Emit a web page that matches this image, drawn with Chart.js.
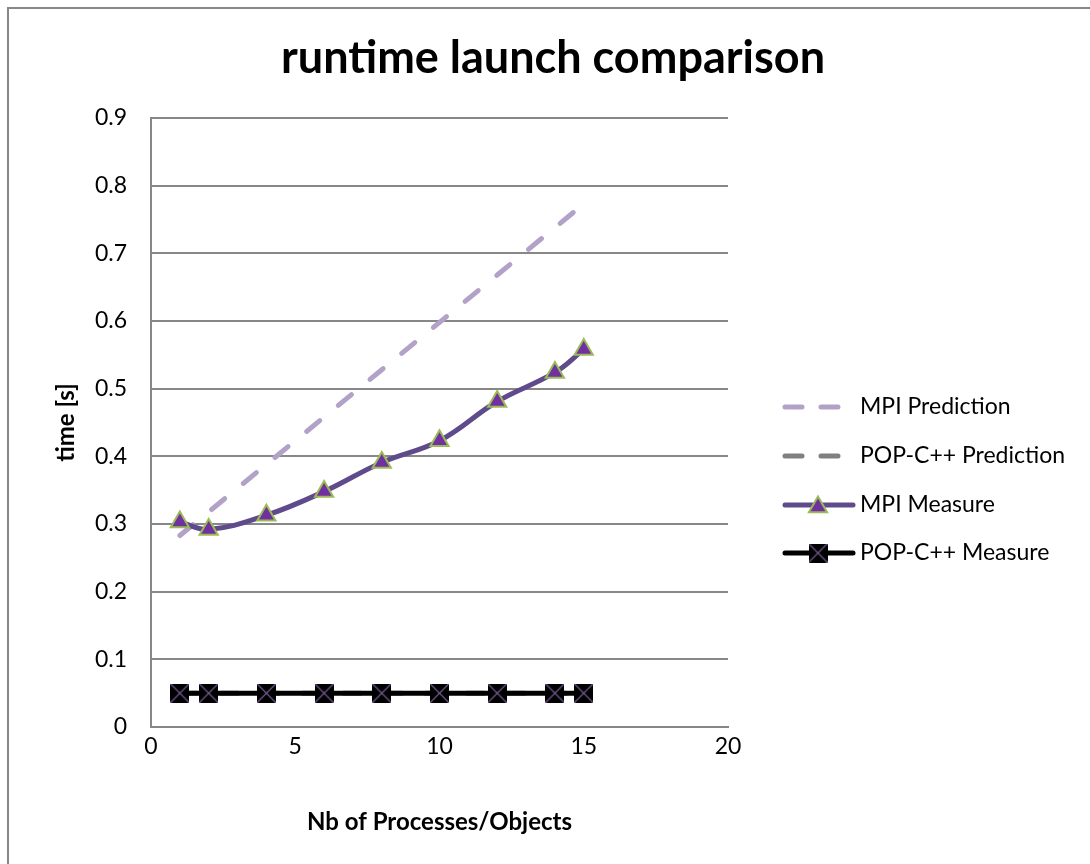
<!DOCTYPE html>
<html>
<head>
<meta charset="utf-8">
<title>runtime launch comparison</title>
<script src="https://cdn.jsdelivr.net/npm/chart.js@4.4.1/dist/chart.umd.min.js"></script>
<style>
  html, body { margin: 0; padding: 0; background: #fff; }
  #wrap { width: 1090px; height: 864px; }
</style>
</head>
<body>
<div id="wrap"><canvas id="chart" width="1090" height="864"></canvas></div>
<script>
  // values
  const xValues = [1, 2, 4, 6, 8, 10, 12, 14, 15];
  const mpiPrediction = [0.283, 0.318, 0.388, 0.458, 0.528, 0.598, 0.668, 0.738, 0.773];
  const popPrediction = [0.05, 0.05, 0.05, 0.05, 0.05, 0.05, 0.05, 0.05, 0.05];
  const mpiMeasure = [0.303, 0.292, 0.313, 0.348, 0.391, 0.423, 0.481, 0.524, 0.558];
  const popMeasure = [0.05, 0.05, 0.05, 0.05, 0.05, 0.05, 0.05, 0.05, 0.05];
  const seriesNames = ["MPI Prediction", "POP-C++ Prediction", "MPI Measure", "POP-C++ Measure"];
  const titleText = "runtime launch comparison";

  const FONT = "Lato, 'Open Sans', sans-serif";
  const GRID = "#878787";
  const LIGHT_PURPLE = "#b3a2c7";
  const GREY = "#808080";
  const DARK_PURPLE = "#5f4b8b";

  function toPoints(values) {
    return values.map((y, i) => ({ x: xValues[i], y }));
  }

  // square marker with a thin purple cross, used by POP-C++ Measure
  function makeCrossSquare(size) {
    const c = document.createElement("canvas");
    c.width = size;
    c.height = size;
    const g = c.getContext("2d");
    g.fillStyle = "#000";
    g.fillRect(0, 0, size, size);
    g.strokeStyle = "#8064a2";
    g.lineWidth = 1.2;
    g.beginPath();
    g.moveTo(0, 0);
    g.lineTo(size, size);
    g.moveTo(size, 0);
    g.lineTo(0, size);
    g.stroke();
    return c;
  }
  const crossSquare = makeCrossSquare(19);

  function drawTriangle(ctx, x, y, r) {
    ctx.save();
    ctx.beginPath();
    ctx.moveTo(x, y - r);
    ctx.lineTo(x + r * Math.sin(Math.PI / 3), y + r / 2);
    ctx.lineTo(x - r * Math.sin(Math.PI / 3), y + r / 2);
    ctx.closePath();
    ctx.fillStyle = "#7030a0";
    ctx.fill();
    ctx.strokeStyle = "#9bbb59";
    ctx.lineWidth = 2;
    ctx.stroke();
    ctx.restore();
  }

  function legendLine(ctx, color, y, x1, dash) {
    ctx.strokeStyle = color;
    ctx.lineWidth = 5;
    ctx.lineCap = "round";
    ctx.setLineDash(dash);
    ctx.beginPath();
    ctx.moveTo(785, y);
    ctx.lineTo(x1, y);
    ctx.stroke();
    ctx.setLineDash([]);
  }

  const framePlugin = {
    id: "frame",
    beforeDraw(chart) {
      const ctx = chart.ctx;
      ctx.save();
      ctx.strokeStyle = GRID;
      ctx.lineWidth = 2;
      ctx.beginPath();
      ctx.moveTo(8, chart.height + 5);
      ctx.lineTo(8, 8);
      ctx.lineTo(chart.width + 5, 8);
      ctx.stroke();
      ctx.restore();
    },
    afterDraw(chart) {
      const ctx = chart.ctx;
      ctx.save();
      ctx.fillStyle = "#000";
      ctx.textAlign = "center";
      ctx.textBaseline = "middle";
      ctx.font = "bold 45px " + FONT;
      ctx.fillText(titleText, 553, 58);

      // legend
      const rows = [407, 456, 505, 553];
      legendLine(ctx, LIGHT_PURPLE, rows[0], 838, [17, 19]);
      legendLine(ctx, GREY, rows[1], 838, [17, 19]);
      legendLine(ctx, DARK_PURPLE, rows[2], 853, []);
      drawTriangle(ctx, 818, rows[2] + 2, 10.5);
      legendLine(ctx, "#000", rows[3], 853, []);
      ctx.drawImage(crossSquare, 818 - 9.5, rows[3] - 9.5);

      ctx.font = "23px " + FONT;
      ctx.textAlign = "left";
      ctx.fillStyle = "#000";
      seriesNames.forEach((name, i) => ctx.fillText(name, 860, rows[i]));
      ctx.restore();
    },
  };

  new Chart(document.getElementById("chart"), {
    type: "line",
    data: {
      datasets: [
        {
          label: seriesNames[0],
          data: toPoints(mpiPrediction),
          borderColor: LIGHT_PURPLE,
          borderWidth: 5,
          borderDash: [17, 24],
          borderCapStyle: "round",
          pointRadius: 0,
          tension: 0,
          order: 3,
        },
        {
          label: seriesNames[1],
          data: toPoints(popPrediction),
          borderColor: GREY,
          borderWidth: 5,
          borderDash: [17, 24],
          borderCapStyle: "round",
          pointRadius: 0,
          tension: 0,
          order: 2,
        },
        {
          label: seriesNames[2],
          data: toPoints(mpiMeasure),
          borderColor: DARK_PURPLE,
          borderWidth: 5,
          tension: 0.4,
          pointStyle: "triangle",
          pointRadius: 10.5,
          pointBackgroundColor: "#7030a0",
          pointBorderColor: "#9bbb59",
          pointBorderWidth: 2,
          order: 1,
        },
        {
          label: seriesNames[3],
          data: toPoints(popMeasure),
          borderColor: "#000",
          borderWidth: 5,
          tension: 0,
          pointStyle: crossSquare,
          pointRadius: 9.5,
          order: 0,
        },
      ],
    },
    options: {
      responsive: false,
      animation: false,
      events: [],
      layout: { padding: { top: 118, right: 362, left: 0, bottom: 0 } },
      plugins: { legend: { display: false }, title: { display: false }, tooltip: { enabled: false } },
      scales: {
        x: {
          type: "linear",
          min: 0,
          max: 20,
          afterFit: (scale) => { scale.height = 137; },
          ticks: { stepSize: 5, color: "#000", font: { family: FONT, size: 23 }, padding: 6 },
          grid: { display: false, drawTicks: false },
          border: { display: true, color: GRID, width: 2 },
          title: {
            display: true,
            text: "Nb of Processes/Objects",
            color: "#000",
            font: { family: FONT, size: 24, weight: "bold" },
            padding: { bottom: 27 },
          },
        },
        y: {
          min: 0,
          max: 0.9,
          afterFit: (scale) => { scale.width = 151; },
          ticks: {
            stepSize: 0.1,
            color: "#000",
            font: { family: FONT, size: 23 },
            padding: 24,
            callback: (v) => (v === 0 ? "0" : v.toFixed(1)),
          },
          grid: { color: GRID, lineWidth: 2, drawTicks: false },
          border: { display: true, color: GRID, width: 2 },
          title: {
            display: true,
            text: "time [s]",
            color: "#000",
            font: { family: FONT, size: 24, weight: "bold" },
            padding: { top: 52 },
          },
        },
      },
    },
    plugins: [framePlugin],
  });
</script>
</body>
</html>
